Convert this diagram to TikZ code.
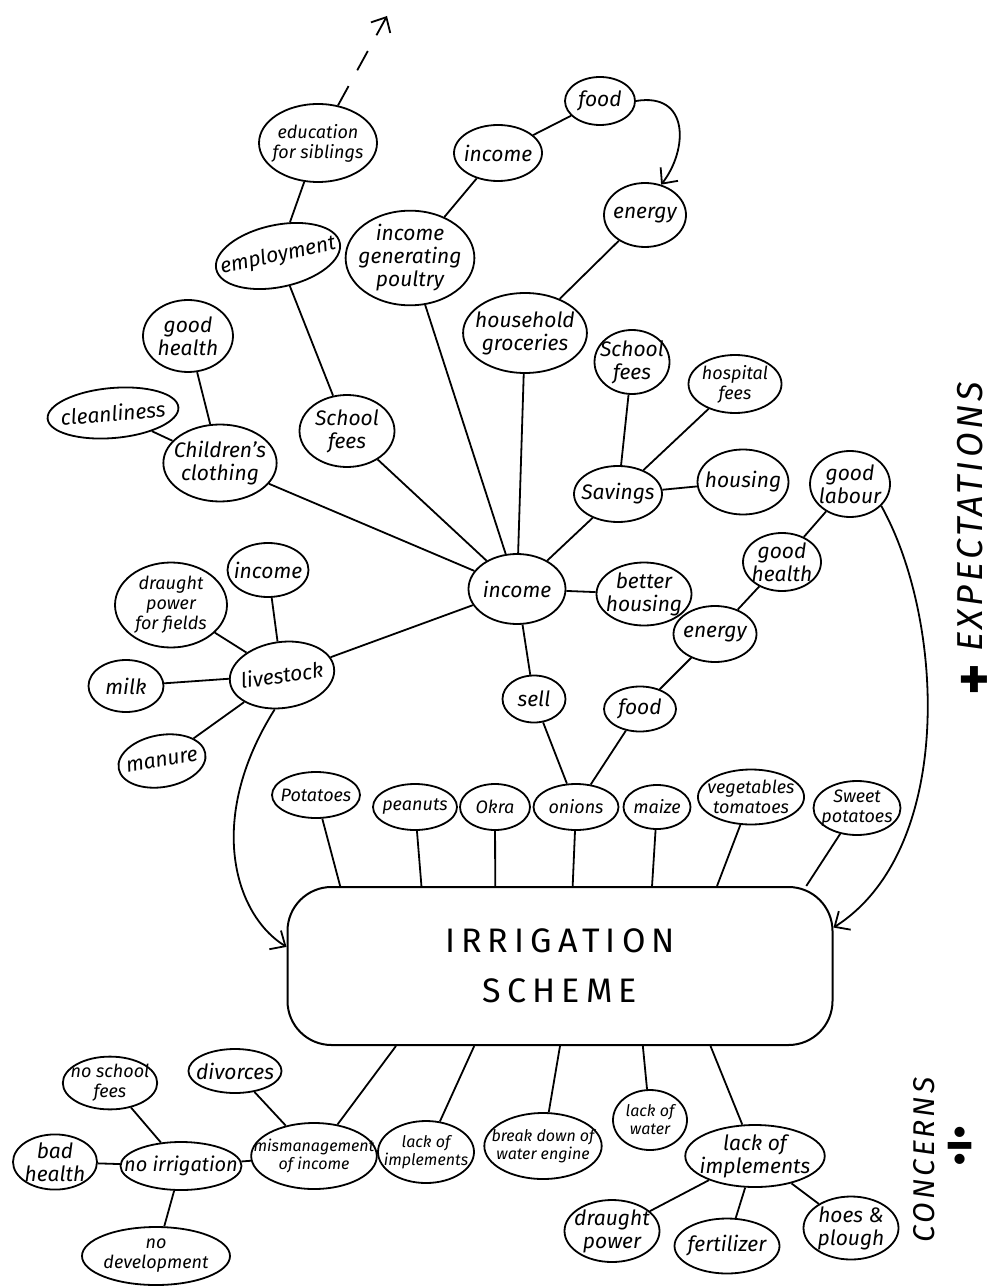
\documentclass[tikz,border=0pt]{standalone}
\usepackage{fontspec}
\setmainfont{Fira Sans}
\newfontfamily\boxfont[LetterSpace=18]{Fira Sans}
\newfontfamily\sidefont[LetterSpace=10]{Fira Sans}
\usetikzlibrary{shapes.geometric,arrows.meta}

\begin{document}
\begin{tikzpicture}[
    x=0.5pt, y=-0.5pt,
    bub/.style={ellipse, draw, line width=0.9pt, inner xsep=-3pt, inner ysep=0pt,
      align=center, font=\itshape\fontsize{10.5}{11.5}\selectfont},
    sm/.style={font=\itshape\fontsize{9}{10}\selectfont},
    xs/.style={font=\itshape\fontsize{8}{9}\selectfont},
    tight/.style={inner xsep=-7pt},
    sz/.style 2 args={minimum width=#1*0.5pt, minimum height=#2*0.5pt},
    link/.style={line width=0.9pt},
    arr/.style={line width=0.9pt, -{Straight Barb[length=6pt, width=11pt]}},
  ]
\useasboundingbox (0,0) rectangle (993,1288);

% top: education and income
\node[bub, sm, sz={118}{78}] (eduSib) at (318,143) {education\\for siblings};
\node[bub, sz={70}{48}] (foodTop) at (600,101) {food};
\node[bub, sz={88}{56}] (incTop) at (498,153) {income};
\node[bub, sz={82}{64}] (energyTop) at (645,215) {energy};
\node[bub, tight, sz={124}{62}, rotate=12] (employ) at (278,256) {employment};
\node[bub, sz={118}{92}] (poultry) at (410,258) {income\\generating\\poultry};
\node[bub, sz={112}{80}] (grocer) at (525,333) {household\\groceries};

% left: clothing, fees, livestock
\node[bub, sz={90}{72}] (healthL) at (188,336) {good\\health};
\node[bub, sz={123}{50}, rotate=5] (clean) at (113,413) {cleanliness};
\node[bub, sz={96}{77}] (cloth) at (220,463) {Children's\\clothing};
\node[bub, sz={95}{72}] (feesL) at (347,431) {School\\fees};
\node[bub, sz={97}{70}] (incC) at (517,589) {income};
\node[bub, sz={81}{54}] (incL) at (268,570) {income};
\node[bub, sm, sz={112}{85}] (draught) at (171,605) {draught\\power\\for fields};
\node[bub, sz={105}{66}, rotate=8] (stock) at (282,675) {livestock};
\node[bub, sz={75}{52}] (milk) at (126,686) {milk};
\node[bub, sz={88}{52}, rotate=10] (manure) at (162,761) {manure};

% right: savings, food, labour
\node[bub, sz={75}{64}] (feesR) at (632,362) {School\\fees};
\node[bub, sm, sz={93}{58}] (hosp) at (735,384) {hospital\\fees};
\node[bub, sz={88}{56}] (save) at (618,494) {Savings};
\node[bub, sz={88}{65}] (housing) at (743,482) {housing};
\node[bub, sz={80}{66}] (labour) at (850,484) {good\\labour};
\node[bub, sz={78}{58}] (healthR) at (782,562) {good\\health};
\node[bub, sz={95}{63}] (better) at (644,594) {better\\housing};
\node[bub, sz={83}{56}] (energyR) at (715,634) {energy};
\node[bub, sz={63}{47}] (sell) at (534,699) {sell};
\node[bub, sz={72}{45}] (foodR) at (640,709) {food};

% crops
\node[bub, sm, sz={88}{46}] (potato) at (316,795) {Potatoes};
\node[bub, sm, sz={84}{46}] (peanut) at (415,807) {peanuts};
\node[bub, sm, sz={70}{46}] (okra) at (495,807) {Okra};
\node[bub, sm, sz={85}{46}] (onion) at (576,807) {onions};
\node[bub, sm, sz={67}{44}] (maize) at (657,807) {maize};
\node[bub, sm, sz={102}{55}] (veg) at (751,797) {vegetables\\tomatoes};
\node[bub, sm, sz={87}{54}] (sweet) at (857,808) {Sweet\\potatoes};

% the scheme
\node[draw, line width=1pt, rounded corners=22pt,
    minimum width=272.5pt, minimum height=79pt, align=center,
    font=\boxfont\fontsize{17}{25}\selectfont] (irr) at (560,966) {IRRIGATION\\SCHEME};

% concerns
\node[bub, sm, sz={70}{52}] (noFees) at (110,1083) {no school\\fees};
\node[bub, sz={72}{44}] (divorce) at (235,1071) {divorces};
\node[bub, sz={84}{50}] (badHealth) at (55,1162) {bad\\health};
\node[bub, tight, font=\itshape\fontsize{10}{11}\selectfont, sz={120}{48}] (noIrr) at (181,1166) {no irrigation};
\node[bub, xs, inner xsep=-8pt, sz={104}{66}] (misman) at (314,1156) {mismanagement\\of income};
\node[bub, xs, inner xsep=-5pt, sz={96}{62}] (lackImpL) at (426,1152) {lack of\\implements};
\node[bub, xs, inner xsep=-5pt, sz={114}{66}] (engine) at (543,1146) {break down of\\water engine};
\node[bub, xs, sz={74}{60}] (water) at (650,1120) {lack of\\water};
\node[bub, sz={130}{62}] (lackImpR) at (755,1156) {lack of\\implements};
\node[bub, sz={95}{62}] (drPow) at (612,1231) {draught\\power};
\node[bub, sz={105}{55}] (fert) at (727,1246) {fertilizer};
\node[bub, sz={95}{63}] (hoes) at (851,1228) {hoes \&\\plough};
\node[bub, sm, sz={148}{58}] (noDev) at (156,1256) {no\\development};

% side labels
\node[rotate=90, font=\sidefont\itshape\fontsize{18}{18}\selectfont] (expect) at (970,517) {EXPECTATIONS};
\node[font=\bfseries\fontsize{30}{30}\selectfont] (plus) at (974,683) {+};
\node[rotate=90, font=\sidefont\itshape\fontsize{15}{15}\selectfont] (concern) at (924,1160) {CONCERNS};
\node[font=\bfseries\fontsize{28}{28}\selectfont] (divide) at (960,1146) {÷};

% links, top
\draw[link] (eduSib) -- (employ);
\draw[link] (employ) -- (feesL);
\draw[link] (foodTop) -- (incTop);
\draw[link] (incTop) -- (poultry);
\draw[link] (poultry) -- (incC);
\draw[link] (energyTop) -- (grocer);
\draw[link] (grocer) -- (incC);
% links, left
\draw[link] (healthL) -- (cloth);
\draw[link] (clean) -- (cloth);
\draw[link] (cloth) -- (incC);
\draw[link] (feesL) -- (incC);
\draw[link] (incC) -- (stock);
\draw[link] (stock) -- (incL);
\draw[link] (stock) -- (draught);
\draw[link] (stock) -- (milk);
\draw[link] (stock) -- (manure);
% links, right
\draw[link] (incC) -- (save);
\draw[link] (save) -- (feesR);
\draw[link] (save) -- (hosp);
\draw[link] (save) -- (housing);
\draw[link] (incC) -- (better);
\draw[link] (incC) -- (sell);
\draw[link] (sell) -- (onion);
\draw[link] (onion) -- (foodR);
\draw[link] (foodR) -- (energyR);
\draw[link] (energyR) -- (healthR);
\draw[link] (healthR) -- (labour);
% crops to scheme
\draw[link] (potato) -- (irr.160);
\draw[link] (peanut) -- (irr.150);
\draw[link] (okra) -- (irr.129);
\draw[link] (onion) -- (irr.81);
\draw[link] (maize) -- (irr.41);
\draw[link] (veg) -- (irr.27);
\draw[link] (sweet) -- (irr.18);
% scheme to concerns
\draw[link] (irr.-154) -- (misman);
\draw[link] (irr.-137) -- (lackImpL);
\draw[link] (irr.-90) -- (engine);
\draw[link] (irr.-44) -- (water);
\draw[link] (irr.-28) -- (lackImpR);
\draw[link] (misman) -- (divorce);
\draw[link] (misman) -- (noIrr);
\draw[link] (noIrr) -- (noFees);
\draw[link] (noIrr) -- (badHealth);
\draw[link] (noIrr) -- (noDev);
\draw[link] (lackImpR) -- (drPow);
\draw[link] (lackImpR) -- (fert);
\draw[link] (lackImpR) -- (hoes);

% arrows
\coordinate (upEnd) at (387,16);
\draw[arr, dash pattern=on 11pt off 9pt] (eduSib.62) -- (upEnd);
\draw[arr] (foodTop.east) .. controls (690,92) and (688,150) .. (energyTop.62);
\draw[arr] (stock.250) .. controls (205,820) and (235,915) .. (irr.176);
\draw[arr] (labour.-35) .. controls (945,620) and (955,850) .. (irr.8);

\end{tikzpicture}
\end{document}
